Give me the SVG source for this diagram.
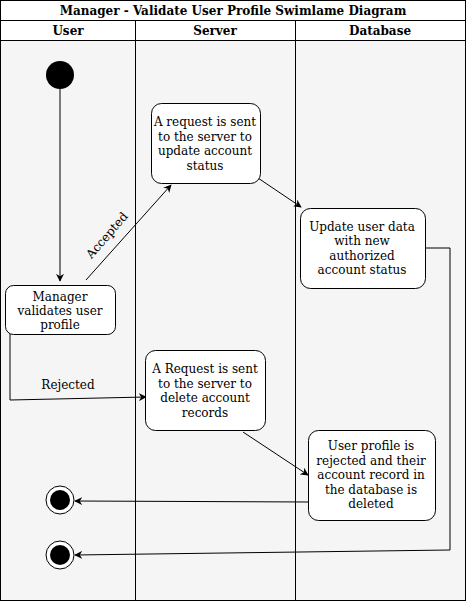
<svg xmlns="http://www.w3.org/2000/svg" width="466" height="601" viewBox="0 0 466 601">
<style>
.t{font-family:"DejaVu Serif",serif;font-size:12px;fill:#000;text-anchor:middle}
.h{font-family:"DejaVu Serif",serif;font-size:12px;font-weight:bold;fill:#000;text-anchor:middle}
.box{fill:#fff;stroke:#000;stroke-width:1}
.ln{fill:none;stroke:#000;stroke-width:1}
</style>
<defs>
<marker id="a" viewBox="0 0 10 10" refX="9" refY="5" markerWidth="8" markerHeight="8" orient="auto" markerUnits="userSpaceOnUse"><path d="M0,0 L10,5 L0,10 L3,5 Z" fill="#000"/></marker>
</defs>
<g id="lanes">
<rect x="0.5" y="0.5" width="465" height="600" fill="#f5f5f5" stroke="#000"/>
<rect x="0.5" y="0.5" width="465" height="40" fill="#fff" stroke="#000"/>
<line x1="0.5" y1="20.5" x2="465.5" y2="20.5" stroke="#000"/>
<line x1="135.5" y1="20.5" x2="135.5" y2="600.5" stroke="#000"/>
<line x1="295.5" y1="20.5" x2="295.5" y2="600.5" stroke="#000"/>
<text class="h" x="233" y="15">Manager - Validate User Profile Swimlame Diagram</text>
<text class="h" x="68" y="35">User</text>
<text class="h" x="215" y="35">Server</text>
<text class="h" x="380" y="35">Database</text>
</g>
<g id="connectors">
<line class="ln" x1="60" y1="89" x2="60" y2="281" marker-end="url(#a)"/>
<line class="ln" x1="86" y1="280" x2="171" y2="185" marker-end="url(#a)"/>
<text class="t" transform="translate(110,238) rotate(-49)">Accepted</text>
<line class="ln" x1="255" y1="176" x2="301" y2="207" marker-end="url(#a)"/>
<polyline class="ln" points="425,248 450,248 450,550 75,555" marker-end="url(#a)"/>
<polyline class="ln" points="10,325 10,400 146,397" marker-end="url(#a)"/>
<text class="t" x="68" y="389">Rejected</text>
<line class="ln" x1="243" y1="432" x2="308" y2="475" marker-end="url(#a)"/>
<line class="ln" x1="308" y1="502" x2="75" y2="501" marker-end="url(#a)"/>
</g>
<g id="start"><circle cx="60" cy="75" r="14" fill="#000"/></g>
<g id="manager">
<rect class="box" x="5.5" y="285.5" width="110" height="49" rx="8"/>
<text class="t" x="60" y="301">Manager</text>
<text class="t" x="60" y="315">validates user</text>
<text class="t" x="60" y="329">profile</text>
</g>
<g id="reqUpdate">
<rect class="box" x="151.5" y="103.5" width="109" height="80" rx="10"/>
<text class="t" x="205" y="126">A request is sent</text>
<text class="t" x="205" y="141">to the server to</text>
<text class="t" x="205" y="155">update account</text>
<text class="t" x="205" y="170">status</text>
</g>
<g id="updateData">
<rect class="box" x="300.5" y="208.5" width="125" height="80" rx="10"/>
<text class="t" x="362" y="231">Update user data</text>
<text class="t" x="362" y="245">with new</text>
<text class="t" x="362" y="260">authorized</text>
<text class="t" x="362" y="274">account status</text>
</g>
<g id="reqDelete">
<rect class="box" x="145.5" y="350.5" width="120" height="80" rx="10"/>
<text class="t" x="205" y="373">A Request is sent</text>
<text class="t" x="205" y="388">to the server to</text>
<text class="t" x="205" y="402">delete account</text>
<text class="t" x="205" y="417">records</text>
</g>
<g id="rejected">
<rect class="box" x="308.5" y="430.5" width="127" height="90" rx="10"/>
<text class="t" x="371" y="450">User profile is</text>
<text class="t" x="371" y="465">rejected and their</text>
<text class="t" x="371" y="479">account record in</text>
<text class="t" x="371" y="494">the database is</text>
<text class="t" x="371" y="508">deleted</text>
</g>
<g id="end1"><circle cx="60" cy="500" r="14" fill="#fff" stroke="#000"/><circle cx="60" cy="500" r="10" fill="#000"/></g>
<g id="end2"><circle cx="60" cy="555" r="14" fill="#fff" stroke="#000"/><circle cx="60" cy="555" r="10" fill="#000"/></g>
</svg>
